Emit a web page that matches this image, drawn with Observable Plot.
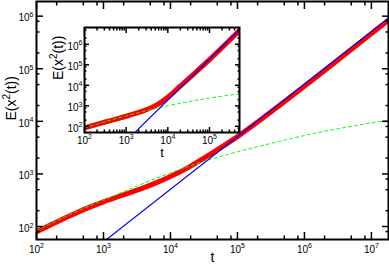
<!DOCTYPE html>
<html><head><meta charset="utf-8">
<script src="https://cdn.jsdelivr.net/npm/d3@7"></script>
<script src="https://cdn.jsdelivr.net/npm/@observablehq/plot@0.6"></script>
<style>
body{margin:0;background:#fff;}
#wrap{position:relative;width:389px;height:266px;overflow:hidden;background:#fff;}
#wrap svg{position:absolute;}
</style></head><body><div id="wrap"></div>
<script>
// ---- main chart data ----
const mainRedT = [100,178,316,562,1000,1778,3162,5623,10000,17783,31623,56234,100000,177828,1e6,1e7,1.8e7];
const mainRedY = [79.4,113.5,160.3,221.3,295.1,380.2,489.8,645.7,891.3,1288,1995,3162,5129,8710,46550,465500,837500];
const mainGreenT = [100,316,1000,3162,10000,31623,100000,316228,1e6,3.16e6,1e7,1.8e7];
const mainGreenY = [83.2,169.8,316.2,588.8,1047,1738,2630,3802,5370,7244,9333,10470];
const mainBlueT = [1000,1.8e7];
const mainBlueY = [51,918000];
// ---- inset chart data ----
const insetRedT = [100,316,1000,1778,3162,5623,10000,17783,31623,100000,525000];
const insetRedY = [83.2,162.2,309,436.5,660.7,1148,2630,7413,21380,177830,4.68e6];
const insetGreenT = [100,316,1000,3162,10000,31623,100000,525000];
const insetGreenY = [83.2,169.8,323.6,588.8,1000,1585,2399,3890];
const insetBlueT = [1500,525000];
const insetBlueY = [43,5.24e6];
// ---- ticks ----
const mainXTicks = [1e2,1e3,1e4,1e5,1e6,1e7];
const mainXLabels = ["10^2","10^3","10^4","10^5","10^6","10^7"];
const mainYTicks = [1e2,1e3,1e4,1e5,1e6];
const mainYLabels = ["10^2","10^3","10^4","10^5","10^6"];
const insetXTicks = [1e2,1e3,1e4,1e5];
const insetXLabels = ["10^2","10^3","10^4","10^5"];
const insetYTicks = [1e2,1e3,1e4,1e5,1e6];
const insetYLabels = ["10^2","10^3","10^4","10^5","10^6"];
const mainMinorMult = [2,5,8];
const insetXMinorMult = [2,3,4,5,6,7,8,9];
const insetYMinorMult = [2,5,8];
const xTitle = "t";
const yTitle = "E(x^2(t))";

const pts = (T, Y) => T.map((t, i) => ({t, y: Y[i]}));
const minors = (mults, lo, hi) => d3.range(0, 9).flatMap(e => mults.map(m => m * 10 ** e)).filter(v => v >= lo && v <= hi);
const fmt = (ticks, labels) => d => { const i = ticks.indexOf(d); return i < 0 ? "" : labels[i]; };

function chart({width, height, mL, mR, mT, mB, xd, yd, red, green, blue, xT, xL, yT, yL, xMin, yMin, major, minor, sw, xPad, yPad, xTitleDy, yTitleDx, titleSize}) {
  const none = () => "";
  return Plot.plot({
    width, height, marginLeft: mL, marginRight: mR, marginTop: mT, marginBottom: mB,
    x: {type: "log", domain: xd},
    y: {type: "log", domain: yd},
    style: {fontFamily: "'Liberation Sans', Arial, Helvetica, sans-serif", fontSize: "10px", color: "black", background: "transparent", overflow: "visible"},
    marks: [
      Plot.frame({fill: "white", stroke: "none"}),
      Plot.line(red, {x: "t", y: "y", stroke: "#ff0000", strokeWidth: 5, curve: "catmull-rom", clip: true}),
      Plot.line(green, {x: "t", y: "y", stroke: "#00ff00", strokeWidth: 1, strokeDasharray: "3,3", curve: "catmull-rom", clip: true}),
      Plot.line(blue, {x: "t", y: "y", stroke: "#0000ff", strokeWidth: 1.2, clip: true}),
      Plot.frame({stroke: "black", strokeWidth: sw}),
      Plot.axisX(xT, {anchor: "bottom", tickSize: -major, tickFormat: none, label: null, strokeWidth: 1.5}),
      Plot.axisX(xT, {anchor: "top", tickSize: -major, tickFormat: none, label: null, strokeWidth: 1.5}),
      Plot.axisX(xMin, {anchor: "bottom", tickSize: -minor, tickFormat: none, label: null, strokeWidth: 1.5}),
      Plot.axisX(xMin, {anchor: "top", tickSize: -minor, tickFormat: none, label: null, strokeWidth: 1.5}),
      Plot.axisY(yT, {anchor: "left", tickSize: -major, tickFormat: none, label: null, strokeWidth: 1.5}),
      Plot.axisY(yT, {anchor: "right", tickSize: -major, tickFormat: none, label: null, strokeWidth: 1.5}),
      Plot.axisY(yMin, {anchor: "left", tickSize: -minor, tickFormat: none, label: null, strokeWidth: 1.5}),
      Plot.axisY(yMin, {anchor: "right", tickSize: -minor, tickFormat: none, label: null, strokeWidth: 1.5}),
      Plot.axisX(xT, {anchor: "bottom", tickSize: 0, tickPadding: xPad, tickFormat: fmt(xT, xL), label: null, fontSize: 10}),
      Plot.axisY(yT, {anchor: "left", tickSize: 0, tickPadding: yPad, tickFormat: fmt(yT, yL), label: null, fontSize: 10, dy: 2}),
      Plot.text([xTitle], {frameAnchor: "bottom", dy: xTitleDy, fontSize: titleSize}),
      Plot.text([yTitle], {frameAnchor: "left", rotate: -90, dx: yTitleDx, fontSize: 14})
    ]
  });
}

function supify(svg) {
  d3.select(svg).selectAll("text").each(function () {
    const t = this.textContent;
    const m = t.match(/^(.*?)\^(\d+)(.*)$/);
    if (!m) return;
    const fs = parseFloat(getComputedStyle(this).fontSize) || 10;
    const up = Math.round(fs * 0.42 * 10) / 10;
    const sel = d3.select(this);
    sel.text(null);
    sel.append("tspan").text(m[1]);
    sel.append("tspan").attr("dy", -up).attr("font-size", Math.round(fs * 0.7)).text(m[2]);
    if (m[3]) sel.append("tspan").attr("dy", up).text(m[3]);
  });
}

const wrap = document.getElementById("wrap");

const main = chart({
  width: 389, height: 266, mL: 36, mR: 1, mT: 1, mB: 27,
  xd: [100, 1.8e7], yd: [56.6, 1.9e6],
  red: pts(mainRedT, mainRedY), green: pts(mainGreenT, mainGreenY), blue: pts(mainBlueT, mainBlueY),
  xT: mainXTicks, xL: mainXLabels, yT: mainYTicks, yL: mainYLabels,
  xMin: minors(mainMinorMult, 100, 1.8e7), yMin: minors(mainMinorMult, 56.6, 1.9e6),
  major: 7, minor: 3.5, sw: 2, xPad: 6, yPad: 3, xTitleDy: 22, yTitleDx: -25, titleSize: 14
});
main.style.left = "0px"; main.style.top = "0px";
wrap.appendChild(main);

const inset = chart({
  width: 200, height: 140, mL: 44, mR: 1, mT: 7, mB: 28,
  xd: [100, 5.25e5], yd: [50, 6.6e6],
  red: pts(insetRedT, insetRedY), green: pts(insetGreenT, insetGreenY), blue: pts(insetBlueT, insetBlueY),
  xT: insetXTicks, xL: insetXLabels, yT: insetYTicks, yL: insetYLabels,
  xMin: minors(insetXMinorMult, 100, 5.25e5), yMin: minors(insetYMinorMult, 50, 6.6e6),
  major: 5, minor: 2.5, sw: 2, xPad: 4, yPad: 2, xTitleDy: 24, yTitleDx: -26, titleSize: 13
});
inset.style.left = "40px"; inset.style.top = "20px";
wrap.appendChild(inset);

supify(main);
supify(inset);
</script>
</body></html>
